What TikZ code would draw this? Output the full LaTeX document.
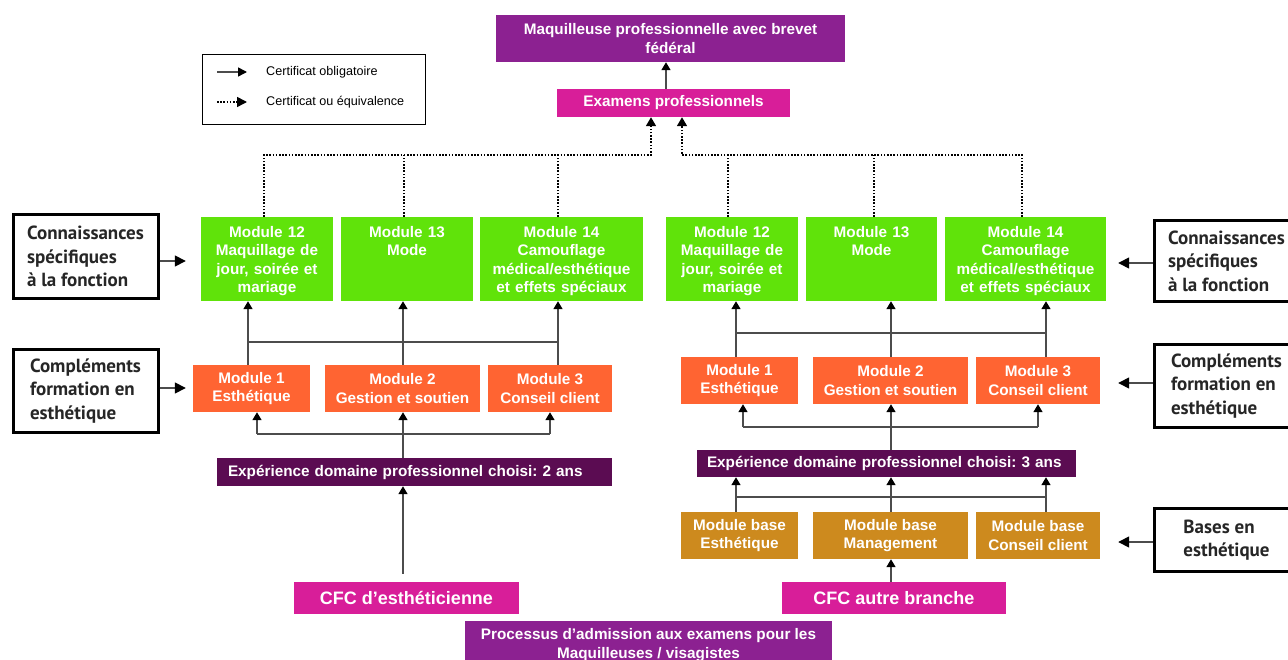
\documentclass[tikz,border=0pt]{standalone}
\usepackage{fontspec}
\setmainfont{Liberation Sans}
\newfontfamily\etiquette{PT Sans}
\usetikzlibrary{arrows.meta}
\frenchspacing

\definecolor{vert}{HTML}{60E30A}
\definecolor{corange}{HTML}{FF6432}
\definecolor{cviolet}{HTML}{8C2191}
\definecolor{cmagenta}{HTML}{D81E99}
\definecolor{prune}{HTML}{5B0C52}
\definecolor{ocre}{HTML}{CD8A1E}

\newcommand{\modfont}{\bfseries\fontsize{15.3}{18.3}\selectfont}

\tikzset{
  fleche/.style={draw=black!70, line width=1.5pt, -{Triangle[length=8pt,width=9pt,color=black]}},
  grandefleche/.style={draw=black!70, line width=1.5pt, -{Triangle[length=11pt,width=11pt,color=black]}},
  trait/.style={draw=black!70, line width=1.5pt},
  pointille/.style={draw=black, line width=1.6pt, dash pattern=on 1.6pt off 1.6pt},
  vertbox/.style={fill=vert, text width=#1, inner xsep=0pt, inner ysep=5pt, text height=15.5pt, text depth=58.5pt},
  orangebox/.style={fill=corange, minimum width=#1, minimum height=47pt},
  ocrebox/.style={fill=ocre, minimum width=#1, minimum height=47pt},
  prunebox/.style={fill=prune, text width=#1, align=left, inner xsep=11pt, minimum height=28pt},
}

\begin{document}
\begin{tikzpicture}[x=1pt,y=-1pt]
  \useasboundingbox (0,0) rectangle (1288,660);
  \clip (0,0) rectangle (1288,660);

  % legende
  \node[draw, line width=0.8pt, minimum width=223pt, minimum height=70pt] (legende) at (313.5,89) {};
  \begin{scope}[every node/.style={anchor=west, inner sep=0pt, font=\fontsize{12.6}{14}\selectfont}]
    \node (leg1) at (266,72)  {Certificat obligatoire};
    \node (leg2) at (266,102) {Certificat ou équivalence};
  \end{scope}
  \draw[fleche, -{Triangle[length=9pt,width=9pt,color=black]}] ([xshift=-49pt]leg1.west) -- ([xshift=-19pt]leg1.west);
  \draw[pointille, -{Triangle[length=10pt,width=10pt]}] ([xshift=-49pt]leg2.west) -- ([xshift=-19pt]leg2.west);

  \begin{scope}[every node/.style={text=white, font=\modfont, align=center, inner sep=0pt}]
    % haut
    \node[fill=cviolet, minimum width=349pt, minimum height=47pt] (brevet) at (670.5,38.5) {Maquilleuse professionnelle avec brevet\\fédéral};
    \node[fill=cmagenta, minimum width=233pt, minimum height=28pt] (examens) at (673.5,103) {Examens professionnels};

    % modules 12-14
    \node[vertbox=132pt] (g12L) at (267,259)    {Module 12\\Maquillage de\\jour, soirée et\\mariage};
    \node[vertbox=132pt] (g13L) at (407,259)    {Module 13\\Mode};
    \node[vertbox=163pt] (g14L) at (561.5,259)  {Module 14\\Camouflage\\médical/esthétique\\et effets spéciaux};
    \node[vertbox=132pt] (g12R) at (732,259)    {Module 12\\Maquillage de\\jour, soirée et\\mariage};
    \node[vertbox=131pt] (g13R) at (871.5,259)  {Module 13\\Mode};
    \node[vertbox=161pt] (g14R) at (1025.5,259) {Module 14\\Camouflage\\médical/esthétique\\et effets spéciaux};

    % modules 1-3
    \node[orangebox=117pt] (oM1L) at (251.5,388.5) {Module 1\\Esthétique};
    \node[orangebox=155pt] (oM2L) at (402.5,388.5) {Module 2\\Gestion et soutien};
    \node[orangebox=124pt] (oM3L) at (550,388.5)   {Module 3\\Conseil client};
    \node[orangebox=117pt] (oM1R) at (739.5,380.5) {Module 1\\Esthétique};
    \node[orangebox=155pt] (oM2R) at (890.5,380.5) {Module 2\\Gestion et soutien};
    \node[orangebox=124pt] (oM3R) at (1038,380.5)  {Module 3\\Conseil client};

    % modules de base
    \node[ocrebox=117pt] (bM1) at (739.5,535.5) {Module base\\Esthétique};
    \node[ocrebox=155pt] (bM2) at (890.5,535.5) {Module base\\Management};
    \node[ocrebox=124pt] (bM3) at (1038,535.5)  {Module base\\Conseil client};

    % experience
    \node[prunebox=373pt] (expL) at (414.5,472)   {Expérience domaine professionnel choisi: 2 ans};
    \node[prunebox=359pt, inner xsep=10pt, minimum height=27pt] (expR) at (886.5,463.5) {Expérience domaine professionnel choisi: 3 ans};

    % CFC
    \node[fill=cmagenta, minimum width=225pt, minimum height=32pt, font=\bfseries\fontsize{18}{21}\selectfont] (cfcL) at (406.5,598) {CFC d’esthéticienne};
    \node[fill=cmagenta, minimum width=224pt, minimum height=32pt, font=\bfseries\fontsize{18}{21}\selectfont] (cfcR) at (894,598) {CFC autre branche};

    \node[fill=cviolet, minimum width=367pt, minimum height=48pt] (admission) at (648.5,645) {Processus d’admission aux examens pour les\\Maquilleuses / visagistes};
  \end{scope}

  % etiquettes
  \begin{scope}[every node/.style={draw=black, line width=3pt, fill=white, text=black!85, font=\etiquette\bfseries\fontsize{19}{23.5}\selectfont, align=left, minimum width=145pt, inner sep=0pt}]
    \node[minimum height=84pt] (connL)  at (85.5,256.5)  {Connaissances\\spécifiques\\à la fonction};
    \node[minimum height=83pt] (complL) at (85.5,391)    {Compléments\\formation en\\esthétique};
    \node[minimum height=81pt] (connR)  at (1226.5,261)  {Connaissances\\spécifiques\\à la fonction};
    \node[minimum height=83pt] (complR) at (1226.5,386)  {Compléments\\formation en\\esthétique};
    \node[minimum height=63pt] (basesR) at (1226.5,540)  {Bases en\\esthétique};
  \end{scope}

  % examens -> brevet
  \draw[fleche] ([xshift=-7.5pt]examens.north) -- ([xshift=-7.5pt]examens.north |- brevet.south);

  % pointilles vers examens
  \coordinate (coinL) at (651,155);
  \coordinate (coinR) at (682,155);
  \draw[pointille, -{Triangle[length=9pt,width=10pt]}] ([xshift=-3pt]g12L.north) |- (coinL) -- (coinL |- examens.south);
  \draw[pointille] ([xshift=-3pt]g13L.north) -- ([xshift=-3pt]g13L.north |- coinL);
  \draw[pointille] ([xshift=-3.5pt]g14L.north) -- ([xshift=-3.5pt]g14L.north |- coinL);
  \draw[pointille, -{Triangle[length=9pt,width=10pt]}] ([xshift=-3.5pt]g14R.north) |- (coinR) -- (coinR |- examens.south);
  \draw[pointille] ([xshift=-4pt]g12R.north) -- ([xshift=-4pt]g12R.north |- coinR);
  \draw[pointille] ([xshift=2.5pt]g13R.north) -- ([xshift=2.5pt]g13R.north |- coinR);

  % gauche
  \coordinate (hautL) at (0,342);
  \coordinate (basL) at (0,434);
  \draw[fleche] (oM1L.north -| 248,0) -- (g12L.south -| 248,0);
  \draw[fleche] (oM2L.north -| 403,0) -- (g13L.south -| 403,0);
  \draw[fleche] (oM3L.north -| 558,0) -- (g14L.south -| 558,0);
  \draw[trait] (hautL -| 248,0) -- (hautL -| 558,0);
  \draw[trait] (basL -| 257,0) -- (basL -| 550,0);
  \draw[fleche] (basL -| 257,0) -- (oM1L.south -| 257,0);
  \draw[fleche] (expL.north -| 403,0) -- (oM2L.south -| 403,0);
  \draw[fleche] (basL -| 550,0) -- (oM3L.south -| 550,0);
  \draw[fleche, shorten <=8pt] (cfcL.north -| 403,0) -- (expL.south -| 403,0);

  % droite
  \coordinate (hautR) at (0,333);
  \coordinate (basR) at (0,427);
  \coordinate (baseR) at (0,497);
  \draw[fleche] (oM1R.north -| 736,0) -- (g12R.south -| 736,0);
  \draw[fleche] (oM2R.north -| 891,0) -- (g13R.south -| 891,0);
  \draw[fleche] (oM3R.north -| 1046,0) -- (g14R.south -| 1046,0);
  \draw[trait] (hautR -| 736,0) -- (hautR -| 1046,0);
  \draw[trait] (basR -| 743,0) -- (basR -| 1038,0);
  \draw[fleche] (basR -| 743,0) -- (oM1R.south -| 743,0);
  \draw[fleche] (expR.north -| 891,0) -- (oM2R.south -| 891,0);
  \draw[fleche] (basR -| 1038,0) -- (oM3R.south -| 1038,0);
  \draw[fleche] (bM1.north -| 736,0) -- (expR.south -| 736,0);
  \draw[fleche] (bM2.north -| 891,0) -- (expR.south -| 891,0);
  \draw[fleche] (bM3.north -| 1046,0) -- (expR.south -| 1046,0);
  \draw[trait] (baseR -| 736,0) -- (baseR -| 1046,0);
  \draw[fleche] (cfcR.north -| 891,0) -- (bM2.south -| 891,0);

  % etiquettes -> modules
  \draw[grandefleche, shorten >=15pt] ([yshift=-4.5pt]connL.east) -- ([yshift=-4.5pt]connL.east -| g12L.west);
  \draw[grandefleche, shorten >=7pt] ([yshift=3pt]complL.east) -- ([yshift=3pt]complL.east -| oM1L.west);
  \draw[grandefleche, shorten >=12pt] ([yshift=-2pt]connR.west) -- ([yshift=-2pt]connR.west -| g14R.east);
  \draw[grandefleche, shorten >=18pt] ([yshift=3pt]complR.west) -- ([yshift=3pt]complR.west -| oM3R.east);
  \draw[grandefleche, shorten >=18pt] ([yshift=-2pt]basesR.west) -- ([yshift=-2pt]basesR.west -| bM3.east);
\end{tikzpicture}
\end{document}
